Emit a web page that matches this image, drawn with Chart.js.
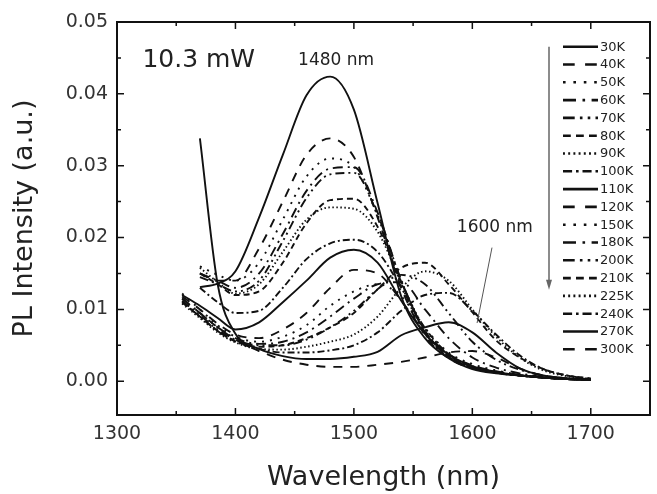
<!DOCTYPE html>
<html>
<head>
<meta charset="utf-8">
<script src="https://cdn.jsdelivr.net/npm/chart.js@4.4.1/dist/chart.umd.min.js"></script>
<style>
  html, body { margin: 0; padding: 0; background: #fff; }
  #pl { display: block; }
</style>
</head>
<body>
<canvas id="pl" width="657" height="494"></canvas>
<script>
// wavelength grid (nm), shared by every spectrum
const wavelength = [1355, 1370, 1385, 1400, 1420, 1440, 1460, 1480, 1500, 1520, 1540, 1560, 1580, 1600, 1620, 1640, 1660, 1680, 1700];

const pl30K  = [null, 0.0131, 0.0136, 0.0153, 0.0228, 0.0315, 0.0398, 0.0424, 0.0378, 0.0248, 0.0118, 0.0060, 0.0032, 0.0017, 0.0011, 0.0008, 0.0005, 0.0003, 0.0002];
const pl40K  = [null, 0.0150, 0.0140, 0.0140, 0.0185, 0.0250, 0.0315, 0.0338, 0.0312, 0.0228, 0.0130, 0.0064, 0.0032, 0.0018, 0.0012, 0.0008, 0.0005, 0.0003, 0.0002];
const pl50K  = [null, 0.0160, 0.0148, 0.0140, 0.0165, 0.0225, 0.0285, 0.0310, 0.0298, 0.0230, 0.0135, 0.0066, 0.0033, 0.0019, 0.0012, 0.0008, 0.0005, 0.0003, 0.0002];
const pl60K  = [null, 0.0150, 0.0140, 0.0130, 0.0150, 0.0205, 0.0265, 0.0296, 0.0298, 0.0235, 0.0140, 0.0068, 0.0034, 0.0019, 0.0012, 0.0008, 0.0005, 0.0003, 0.0002];
const pl70K  = [null, 0.0145, 0.0135, 0.0125, 0.0140, 0.0195, 0.0255, 0.0288, 0.0290, 0.0232, 0.0140, 0.0068, 0.0034, 0.0019, 0.0012, 0.0008, 0.0005, 0.0003, 0.0002];
const pl80K  = [null, 0.0150, 0.0135, 0.0120, 0.0125, 0.0165, 0.0220, 0.0252, 0.0254, 0.0215, 0.0138, 0.0070, 0.0035, 0.0020, 0.0012, 0.0008, 0.0005, 0.0003, 0.0002];
const pl90K  = [null, 0.0158, 0.0138, 0.0122, 0.0135, 0.0180, 0.0225, 0.0242, 0.0240, 0.0208, 0.0138, 0.0072, 0.0036, 0.0020, 0.0012, 0.0008, 0.0005, 0.0003, 0.0002];
const pl100K = [null, 0.0130, 0.0110, 0.0095, 0.0098, 0.0130, 0.0170, 0.0192, 0.0197, 0.0180, 0.0130, 0.0074, 0.0038, 0.0021, 0.0013, 0.0008, 0.0005, 0.0003, 0.0002];
const pl110K = [0.0120, 0.0105, 0.0088, 0.0072, 0.0082, 0.0110, 0.0140, 0.0172, 0.0183, 0.0165, 0.0112, 0.0066, 0.0037, 0.0021, 0.0013, 0.0008, 0.0005, 0.0003, 0.0002];
const pl120K = [0.0118, 0.0100, 0.0080, 0.0065, 0.0060, 0.0072, 0.0095, 0.0130, 0.0155, 0.0150, 0.0112, 0.0068, 0.0038, 0.0022, 0.0014, 0.0009, 0.0005, 0.0003, 0.0002];
const pl150K = [0.0122, 0.0100, 0.0078, 0.0062, 0.0055, 0.0062, 0.0078, 0.0105, 0.0125, 0.0135, 0.0118, 0.0074, 0.0040, 0.0024, 0.0015, 0.0009, 0.0006, 0.0003, 0.0002];
const pl180K = [0.0115, 0.0095, 0.0075, 0.0060, 0.0052, 0.0055, 0.0068, 0.0090, 0.0115, 0.0135, 0.0138, 0.0100, 0.0060, 0.0033, 0.0019, 0.0011, 0.0006, 0.0004, 0.0002];
const pl200K = [0.0112, 0.0092, 0.0072, 0.0058, 0.0050, 0.0050, 0.0058, 0.0075, 0.0098, 0.0128, 0.0148, 0.0135, 0.0095, 0.0055, 0.0030, 0.0016, 0.0008, 0.0004, 0.0002];
const pl210K = [0.0110, 0.0090, 0.0070, 0.0056, 0.0048, 0.0050, 0.0060, 0.0075, 0.0095, 0.0128, 0.0158, 0.0165, 0.0135, 0.0096, 0.0057, 0.0033, 0.0017, 0.0008, 0.0004];
const pl225K = [0.0108, 0.0088, 0.0068, 0.0054, 0.0045, 0.0044, 0.0048, 0.0055, 0.0065, 0.0090, 0.0130, 0.0153, 0.0140, 0.0100, 0.0062, 0.0033, 0.0015, 0.0007, 0.0003];
const pl240K = [0.0110, 0.0090, 0.0070, 0.0055, 0.0045, 0.0040, 0.0040, 0.0043, 0.0050, 0.0068, 0.0098, 0.0120, 0.0123, 0.0098, 0.0065, 0.0036, 0.0017, 0.0008, 0.0003];
const pl270K = [null, 0.0338, 0.0135, 0.0066, 0.0045, 0.0035, 0.0031, 0.0031, 0.0034, 0.0041, 0.0064, 0.0075, 0.0082, 0.0068, 0.0040, 0.0018, 0.0008, 0.0004, 0.0002];
const pl300K = [0.0115, 0.0095, 0.0075, 0.0058, 0.0042, 0.0030, 0.0023, 0.0020, 0.0020, 0.0023, 0.0027, 0.0033, 0.0040, 0.0042, 0.0033, 0.0018, 0.0008, 0.0004, 0.0002];

const temperatures = ['30K', '40K', '50K', '60K', '70K', '80K', '90K', '100K', '110K',
                      '120K', '150K', '180K', '200K', '210K', '225K', '240K', '270K', '300K'];
const spectra = [pl30K, pl40K, pl50K, pl60K, pl70K, pl80K, pl90K, pl100K, pl110K,
                 pl120K, pl150K, pl180K, pl200K, pl210K, pl225K, pl240K, pl270K, pl300K];

// line styles cycle: solid, dash, dot, dash-dot, dash-dot-dot, short dash, dense dot, short dash-dot
const dashStyles = [[], [9, 8], [2, 6], [10, 5, 2, 5], [9, 4, 2, 4, 2, 4], [6, 4], [1.5, 2.5], [7, 3, 2, 3]];
const styleOf = [0, 1, 2, 3, 4, 5, 6, 7, 0, 1, 2, 3, 4, 5, 6, 7, 0, 1];

const xTicks = [1300, 1400, 1500, 1600, 1700];
const yTicks = [0.00, 0.01, 0.02, 0.03, 0.04, 0.05];

// annotations, placed in data units
const notes = [
    { text: '10.3 mW', x: 1369, y: 0.0438, size: 25 },
    { text: '1480 nm', x: 1485, y: 0.0440, size: 17 },
    { text: '1600 nm', x: 1619, y: 0.0208, size: 17 }
];
const pointer = { from: [1616.6, 0.0186], to: [1604, 0.0081] };

const FONT = '"DejaVu Sans", "Liberation Sans", Arial, sans-serif';

function toPoints(values) {
    const pts = [];
    values.forEach((v, i) => { if (v !== null) pts.push({ x: wavelength[i], y: v }); });
    return pts;
}

const datasets = spectra.map((s, i) => ({
    label: temperatures[i],
    data: toPoints(s),
    borderColor: '#111',
    borderWidth: 1.9,
    borderDash: dashStyles[styleOf[i]],
    pointRadius: 0,
    fill: false,
    cubicInterpolationMode: 'monotone'
}));

// frame with inward ticks on all sides, annotations and the temperature legend
const decorations = {
    id: 'decorations',
    afterDatasetsDraw(chart) {
        const { ctx, chartArea: a, scales: { x, y } } = chart;
        ctx.save();
        ctx.strokeStyle = '#111';
        ctx.setLineDash([]);

        // ticks
        ctx.lineWidth = 1.5;
        ctx.beginPath();
        for (let i = 0; i <= 9; i++) {
            const v = 1300 + i * 50;
            const px = x.getPixelForValue(v);
            const len = i % 2 === 0 ? 7 : 4;
            ctx.moveTo(px, a.bottom); ctx.lineTo(px, a.bottom - len);
            ctx.moveTo(px, a.top); ctx.lineTo(px, a.top + len);
        }
        for (let i = 0; i <= 10; i++) {
            const py = y.getPixelForValue(i * 0.005);
            const len = i % 2 === 0 ? 7 : 4;
            ctx.moveTo(a.left, py); ctx.lineTo(a.left + len, py);
            ctx.moveTo(a.right, py); ctx.lineTo(a.right - len, py);
        }
        ctx.stroke();

        // frame
        ctx.lineWidth = 2;
        ctx.strokeRect(a.left, a.top, a.right - a.left, a.bottom - a.top);

        // annotations
        ctx.fillStyle = '#222';
        ctx.textAlign = 'center';
        ctx.textBaseline = 'alphabetic';
        notes.forEach(n => {
            ctx.font = n.size + 'px ' + FONT;
            ctx.fillText(n.text, x.getPixelForValue(n.x), y.getPixelForValue(n.y));
        });
        ctx.strokeStyle = '#555';
        ctx.lineWidth = 1;
        ctx.beginPath();
        ctx.moveTo(x.getPixelForValue(pointer.from[0]), y.getPixelForValue(pointer.from[1]));
        ctx.lineTo(x.getPixelForValue(pointer.to[0]), y.getPixelForValue(pointer.to[1]));
        ctx.stroke();

        // legend: arrow showing the temperature order, then one row per dataset
        const rowH = 17.8;
        const top = a.top + 24.7;
        const arrowX = a.right - 101;
        const arrowEnd = top + 243;
        ctx.strokeStyle = '#666';
        ctx.fillStyle = '#666';
        ctx.lineWidth = 1.5;
        ctx.beginPath();
        ctx.moveTo(arrowX, top); ctx.lineTo(arrowX, arrowEnd - 8);
        ctx.stroke();
        ctx.beginPath();
        ctx.moveTo(arrowX - 3, arrowEnd - 10);
        ctx.lineTo(arrowX + 3, arrowEnd - 10);
        ctx.lineTo(arrowX, arrowEnd);
        ctx.closePath();
        ctx.fill();

        ctx.font = '13px ' + FONT;
        ctx.textAlign = 'left';
        ctx.textBaseline = 'middle';
        chart.data.datasets.forEach((ds, i) => {
            const ly = top + i * rowH;
            ctx.strokeStyle = '#111';
            ctx.lineWidth = 2.6;
            ctx.setLineDash(ds.borderDash.map(d => d * 1.3));
            ctx.beginPath();
            ctx.moveTo(a.right - 87, ly); ctx.lineTo(a.right - 52, ly);
            ctx.stroke();
            ctx.setLineDash([]);
            ctx.fillStyle = '#222';
            ctx.fillText(ds.label, a.right - 50, ly + 0.5);
        });
        ctx.restore();
    }
};

new Chart(document.getElementById('pl'), {
    type: 'line',
    data: { datasets: datasets },
    options: {
        responsive: false,
        animation: false,
        devicePixelRatio: 1,
        layout: { padding: { top: 22, right: 7, bottom: 0, left: 0 } },
        plugins: {
            legend: { display: false },
            tooltip: { enabled: false }
        },
        scales: {
            x: {
                type: 'linear',
                min: 1300,
                max: 1750,
                grid: { display: false, drawTicks: false },
                border: { display: false },
                afterFit: s => { s.height = 79; },
                afterBuildTicks: s => { s.ticks = xTicks.map(v => ({ value: v })); },
                ticks: {
                    color: '#333',
                    padding: 8,
                    font: { family: FONT, size: 19 },
                    callback: v => String(v)
                },
                title: {
                    display: true,
                    text: 'Wavelength (nm)',
                    color: '#222',
                    padding: { top: 0, bottom: 0 },
                    font: { family: FONT, size: 27, lineHeight: 1.2 }
                }
            },
            y: {
                min: -0.0047,
                max: 0.05,
                grid: { display: false, drawTicks: false },
                border: { display: false },
                afterFit: s => { s.width = 117; },
                afterBuildTicks: s => { s.ticks = yTicks.map(v => ({ value: v })); },
                ticks: {
                    color: '#333',
                    padding: 9,
                    font: { family: FONT, size: 19 },
                    callback: v => v.toFixed(2)
                },
                title: {
                    display: true,
                    text: 'PL Intensity (a.u.)',
                    color: '#222',
                    padding: { top: 9, bottom: 0 },
                    font: { family: FONT, size: 27, lineHeight: 1.2 }
                }
            }
        }
    },
    plugins: [decorations]
});
</script>
</body>
</html>
